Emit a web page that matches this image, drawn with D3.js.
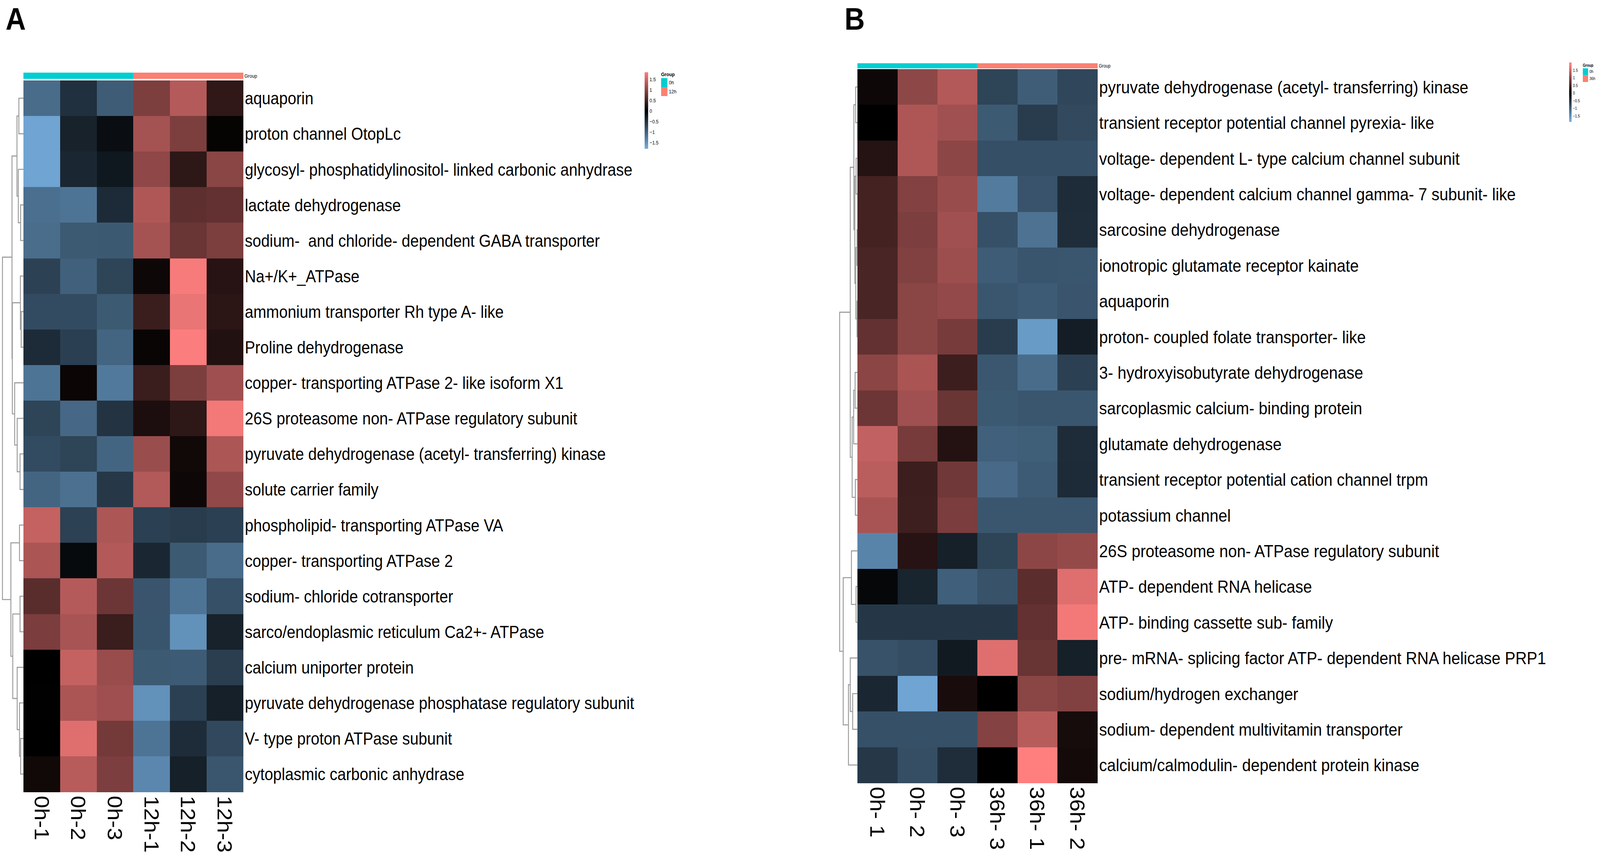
<!DOCTYPE html>
<html>
<head>
<meta charset="utf-8">
<script src="https://cdn.jsdelivr.net/npm/d3@7"></script>
<style>
  html, body { margin: 0; padding: 0; background: #fff; overflow: hidden; width: 100%; height: 100%; }
  svg { display: block; width: 100vw; height: 100vh; }
  text { font-family: "Liberation Sans", Arial, sans-serif; fill: #000; white-space: pre; }
</style>
</head>
<body>
<svg id="chart" viewBox="0 0 4562 2200" preserveAspectRatio="none"></svg>
<script>
// ---------------- Panel A data ----------------
const genesA = [
  "aquaporin",
  "proton channel OtopLc",
  "glycosyl- phosphatidylinositol- linked carbonic anhydrase",
  "lactate dehydrogenase",
  "sodium-  and chloride- dependent GABA transporter",
  "Na+/K+_ATPase",
  "ammonium transporter Rh type A- like",
  "Proline dehydrogenase",
  "copper- transporting ATPase 2- like isoform X1",
  "26S proteasome non- ATPase regulatory subunit",
  "pyruvate dehydrogenase (acetyl- transferring) kinase",
  "solute carrier family",
  "phospholipid- transporting ATPase VA",
  "copper- transporting ATPase 2",
  "sodium- chloride cotransporter",
  "sarco/endoplasmic reticulum Ca2+- ATPase",
  "calcium uniporter protein",
  "pyruvate dehydrogenase phosphatase regulatory subunit",
  "V- type proton ATPase subunit",
  "cytoplasmic carbonic anhydrase"
];
const samplesA = ["0h-1", "0h-2", "0h-3", "12h-1", "12h-2", "12h-3"];
const groupsA = ["0h", "0h", "0h", "12h", "12h", "12h"];
const groupLevelsA = ["0h", "12h"];
const valuesA = [
  [-1.12, -0.50, -0.95,  0.91,  1.31,  0.35],
  [-1.70, -0.35, -0.15,  1.20,  0.91,  0.04],
  [-1.70, -0.40, -0.25,  1.04,  0.33,  1.00],
  [-1.15, -1.20, -0.45,  1.27,  0.68,  0.72],
  [-1.13, -0.93, -0.92,  1.20,  0.77,  0.91],
  [-0.68, -0.99, -0.70,  0.10,  1.79,  0.28],
  [-0.78, -0.78, -0.93,  0.42,  1.70,  0.31],
  [-0.45, -0.65, -1.05,  0.07,  1.82,  0.25],
  [-1.20,  0.08, -1.25,  0.42,  0.91,  1.15],
  [-0.70, -1.07, -0.53,  0.20,  0.33,  1.76],
  [-0.78, -0.70, -1.05,  1.12,  0.12,  1.25],
  [-1.05, -1.16, -0.58,  1.29,  0.10,  1.05],
  [ 1.42, -0.67,  1.25, -0.66, -0.62, -0.66],
  [ 1.24, -0.10,  1.30, -0.40, -0.93, -1.12],
  [ 0.65,  1.31,  0.78, -0.87, -1.20, -0.83],
  [ 0.89,  1.22,  0.42, -0.88, -1.50, -0.35],
  [ 0.00,  1.42,  1.11, -0.93, -0.94, -0.64],
  [ 0.01,  1.24,  1.15, -1.50, -0.66, -0.33],
  [ 0.00,  1.62,  0.84, -1.20, -0.46, -0.75],
  [ 0.12,  1.33,  0.90, -1.40, -0.33, -0.89]
];
// row dendrogram: [mergeHeight, left, right], leaves = row index
const treeA = [10,
  [5.46,
    [3.1, [2.2, 0, 1], [2.46, 2, [1.37, 3, 4]]],
    [5.3, [1.48, 5, [1.1, 6, 7]], [4.2, 8, [3.0, 9, [1.64, 10, 11]]]]],
  [6.0,
    [1.9, 12, 13],
    [5.1, [1.64, 14, 15], [3.0, 16, [1.9, 17, [1.37, 18, 19]]]]]
];
const legendTicksA = [1.5, 1, 0.5, 0, -0.5, -1, -1.5];

// ---------------- Panel B data ----------------
const genesB = [
  "pyruvate dehydrogenase (acetyl- transferring) kinase",
  "transient receptor potential channel pyrexia- like",
  "voltage- dependent L- type calcium channel subunit",
  "voltage- dependent calcium channel gamma- 7 subunit- like",
  "sarcosine dehydrogenase",
  "ionotropic glutamate receptor kainate",
  "aquaporin",
  "proton- coupled folate transporter- like",
  "3- hydroxyisobutyrate dehydrogenase",
  "sarcoplasmic calcium- binding protein",
  "glutamate dehydrogenase",
  "transient receptor potential cation channel trpm",
  "potassium channel",
  "26S proteasome non- ATPase regulatory subunit",
  "ATP- dependent RNA helicase",
  "ATP- binding cassette sub- family",
  "pre- mRNA- splicing factor ATP- dependent RNA helicase PRP1",
  "sodium/hydrogen exchanger",
  "sodium- dependent multivitamin transporter",
  "calcium/calmodulin- dependent protein kinase"
];
const samplesB = ["0h- 1", "0h- 2", "0h- 3", "36h- 3", "36h- 1", "36h- 2"];
const groupsB = ["0h", "0h", "0h", "36h", "36h", "36h"];
const groupLevelsB = ["0h", "36h"];
const valuesB = [
  [ 0.10,  1.03,  1.30, -0.70, -0.96, -0.73],
  [ 0.00,  1.26,  1.16, -0.93, -0.62, -0.76],
  [ 0.27,  1.27,  1.02, -0.82, -0.82, -0.82],
  [ 0.49,  0.95,  1.11, -1.27, -0.86, -0.46],
  [ 0.50,  0.90,  1.16, -0.83, -1.18, -0.47],
  [ 0.54,  0.94,  1.13, -0.95, -0.88, -0.89],
  [ 0.54,  1.00,  1.07, -0.89, -0.94, -0.87],
  [ 0.72,  1.00,  0.86, -0.62, -1.60, -0.30],
  [ 1.01,  1.23,  0.44, -0.90, -1.12, -0.66],
  [ 0.78,  1.16,  0.77, -0.92, -0.89, -0.89],
  [ 1.41,  0.86,  0.26, -0.99, -0.97, -0.46],
  [ 1.35,  0.44,  0.81, -1.10, -0.94, -0.45],
  [ 1.22,  0.45,  0.89, -0.89, -0.89, -0.89],
  [-1.37,  0.28, -0.33, -0.70,  1.02,  1.08],
  [-0.07, -0.37, -0.98, -0.85,  0.66,  1.62],
  [-0.57, -0.57, -0.57, -0.57,  0.72,  1.76],
  [-0.85, -0.80, -0.27,  1.62,  0.76, -0.33],
  [-0.40, -1.70,  0.18,  0.00,  1.00,  0.94],
  [-0.83, -0.83, -0.83,  0.96,  1.33,  0.17],
  [-0.58, -0.81, -0.47,  0.00,  1.85,  0.15]
];
const treeB = [10,
  [4.05,
    [2.03, [1.0, 0, 1], [1.5, [0.8, 2, 3], [0.95, [0.27, 4, 5], [0.27, 6, 7]]]],
    [3.0, [2.16, [1.35, 8, 9], 10], [1.2, 11, 12]]],
  [8.0,
    [3.4, 13, [0.8, 14, 15]],
    [5.07, [4.05, 16, [2.7, 17, 18]], 19]]
];
const legendTicksB = [1.5, 1, 0.5, 0, -0.5, -1, -1.5];

// ---------------- shared styles ----------------
const color = d3.scaleLinear()
  .domain([-1.75, 0, 1.85])
  .range(["#72a9d9", "#000000", "#ff7f7f"])
  .interpolate(d3.interpolateRgb)
  .clamp(true);
const groupColor = d3.scaleOrdinal()
  .domain(["0h", "12h", "36h"])
  .range(["#00ced1", "#fa8072", "#fa8072"]);

const svg = d3.select("#chart");
const defs = svg.append("defs");
svg.append("rect").attr("x", 0).attr("y", 0).attr("width", 4562).attr("height", 2200).attr("fill", "#fff");

function drawPanel(o) {
  const g = svg.append("g");
  const x = d3.scaleBand().domain(o.samples).range([o.left, o.right]);
  const y = d3.scaleBand().domain(o.genes).range([o.top, o.bottom]);

  // panel letter
  g.append("text").attr("x", o.letterX).attr("y", 76)
    .attr("font-size", 80).attr("font-weight", "bold").text(o.letter);

  // group annotation bar
  g.selectAll("rect.grp").data(o.samples).join("rect")
    .attr("x", d => x(d)).attr("y", o.barTop)
    .attr("width", x.bandwidth() + 0.6).attr("height", o.barH)
    .attr("fill", (d, i) => groupColor(o.groups[i]))
    .attr("shape-rendering", "crispEdges");
  g.append("text").attr("x", o.right + 4).attr("y", o.barTop + o.barH / 2)
    .attr("dy", "0.35em").attr("font-size", o.smallFont).attr("fill", "#333").text("Group");

  // heatmap cells
  const cells = o.values.flatMap((row, i) => row.map((v, j) => ({gene: o.genes[i], sample: o.samples[j], v})));
  g.selectAll("rect.cell").data(cells).join("rect")
    .attr("x", d => x(d.sample)).attr("y", d => y(d.gene))
    .attr("width", x.bandwidth() + 0.6).attr("height", y.bandwidth() + 0.6)
    .attr("fill", d => color(d.v))
    .attr("shape-rendering", "crispEdges");

  // row labels
  g.selectAll("text.row").data(o.genes).join("text")
    .attr("x", o.right + 5).attr("y", d => y(d) + y.bandwidth() / 2)
    .attr("dy", "0.36em").attr("font-size", o.rowFont).text(d => d);

  // column labels (rotated, reading top to bottom)
  g.selectAll("text.col").data(o.samples).join("text")
    .attr("transform", d => `translate(${x(d) + x.bandwidth() / 2},${o.bottom + 10}) rotate(90)`)
    .attr("dy", "0.36em").attr("font-size", o.colFont).text(d => d);

  // row dendrogram
  const dx = d3.scaleLinear().domain([0, 10]).range([o.left, o.dendroRoot]);
  const dg = g.append("g").attr("fill", "none").attr("stroke", "#9a9a9a").attr("stroke-width", 2.6);
  function walk(node) {
    if (typeof node === "number") {
      return {y: y(o.genes[node]) + y.bandwidth() / 2, h: 0};
    }
    const [h, a, b] = node;
    const A = walk(a), B = walk(b);
    const p = d3.path();
    p.moveTo(dx(A.h), A.y); p.lineTo(dx(h), A.y); p.lineTo(dx(h), B.y); p.lineTo(dx(B.h), B.y);
    dg.append("path").attr("d", p.toString());
    return {y: (A.y + B.y) / 2, h};
  }
  walk(o.tree);

  // colour legend
  const L = o.legend;
  const ly = d3.scaleLinear().domain([1.5, -1.5]).range([L.y15, L.ym15]);
  const vTop = ly.invert(L.barTop), vBot = ly.invert(L.barBottom);
  const gradId = "grad" + o.letter;
  const grad = defs.append("linearGradient").attr("id", gradId)
    .attr("x1", 0).attr("y1", 0).attr("x2", 0).attr("y2", 1);
  d3.range(0, 41).forEach(i => {
    const v = vTop + (vBot - vTop) * i / 40;
    grad.append("stop").attr("offset", (i / 40 * 100) + "%").attr("stop-color", color(v));
  });
  g.append("rect").attr("x", L.barX).attr("y", L.barTop)
    .attr("width", L.barW).attr("height", L.barBottom - L.barTop)
    .attr("fill", `url(#${gradId})`);
  g.selectAll("text.tick").data(o.ticks).join("text")
    .attr("x", L.barX + L.barW + 4).attr("y", d => ly(d)).attr("dy", "0.36em")
    .attr("font-size", L.font).attr("fill", "#444").text(d => d3.format("")(d));

  // group legend
  g.append("text").attr("x", L.gx).attr("y", L.gTitleY)
    .attr("font-size", L.font).attr("font-weight", "bold").attr("fill", "#333").text("Group");
  g.selectAll("rect.gl").data(o.groupLevels).join("rect")
    .attr("x", L.gx).attr("y", (d, i) => L.gTop + i * L.gH)
    .attr("width", L.gW).attr("height", L.gH)
    .attr("fill", d => groupColor(d));
  g.selectAll("text.gl").data(o.groupLevels).join("text")
    .attr("x", L.gx + L.gW + 4).attr("y", (d, i) => L.gTop + (i + 0.5) * L.gH)
    .attr("dy", "0.36em").attr("font-size", L.font).attr("fill", "#444").text(d => d);
}

drawPanel({
  letter: "A", letterX: 16,
  genes: genesA, samples: samplesA, groups: groupsA, groupLevels: groupLevelsA,
  values: valuesA, tree: treeA, ticks: legendTicksA,
  left: 67, right: 693, top: 206, bottom: 2028,
  barTop: 186, barH: 16, dendroRoot: 7,
  rowFont: 44, colFont: 57, smallFont: 13,
  legend: {barX: 1838, barW: 10, barTop: 185, barBottom: 381, y15: 203, ym15: 365, font: 13,
           gx: 1885, gTitleY: 195, gTop: 200, gH: 23, gW: 18}
});

drawPanel({
  letter: "B", letterX: 2408,
  genes: genesB, samples: samplesB, groups: groupsB, groupLevels: groupLevelsB,
  values: valuesB, tree: treeB, ticks: legendTicksB,
  left: 2445, right: 3129, top: 177, bottom: 2005,
  barTop: 162, barH: 13, dendroRoot: 2394,
  rowFont: 45, colFont: 57, smallFont: 12,
  legend: {barX: 4474, barW: 7, barTop: 160, barBottom: 312, y15: 180, ym15: 297, font: 10,
           gx: 4513, gTitleY: 171, gTop: 175, gH: 17.5, gW: 15}
});
</script>
</body>
</html>
